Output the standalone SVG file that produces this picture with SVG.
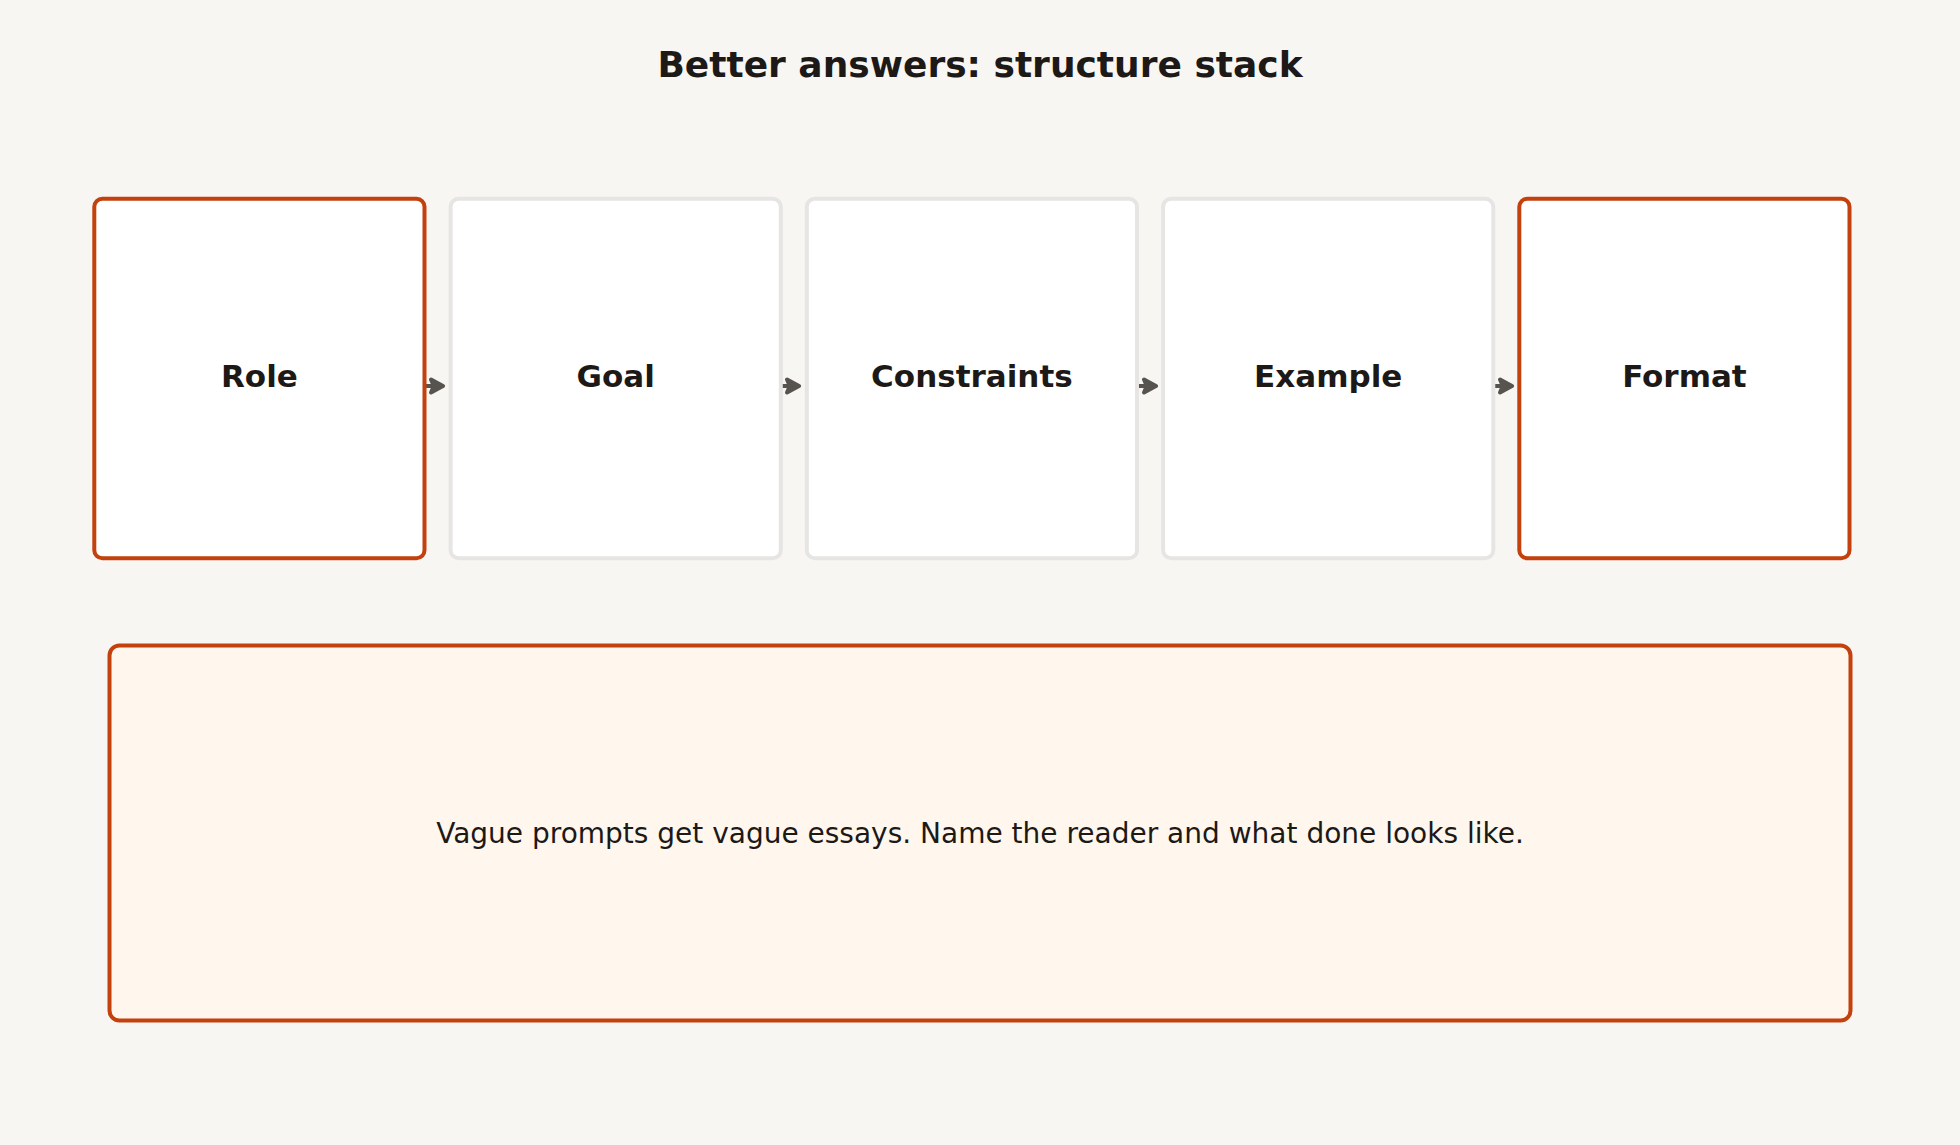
<svg xmlns="http://www.w3.org/2000/svg" width="1960" height="1145" viewBox="0 0 1960 1145">
<style>
.bg{fill:#f8f6f3}
.node{fill:#ffffff;stroke:#e7e5e4;stroke-width:4}
.node.hl{stroke:#c2410c}
.lbl{font-family:"DejaVu Sans",sans-serif;font-weight:bold;font-size:31px;fill:#1c1917;text-anchor:middle}
.title{font-family:"DejaVu Sans",sans-serif;font-weight:bold;font-size:36px;fill:#1c1917;text-anchor:middle}
.note{fill:#fff7ed;stroke:#c2410c;stroke-width:4}
.notetxt{font-family:"DejaVu Sans",sans-serif;font-size:28px;fill:#1c1917;text-anchor:middle}
.edge{stroke:#57534e;stroke-width:4;fill:none}
</style>
<defs>
<marker id="ah" viewBox="0 0 10 10" refX="8" refY="5" markerWidth="4.6" markerHeight="4.6" orient="auto" markerUnits="strokeWidth">
<path d="M1.5,1.5 L8,5 L1.5,8.5 L3,5 Z" fill="#57534e" stroke="#57534e" stroke-width="2.2" stroke-linejoin="round" stroke-linecap="round"/>
</marker>
</defs>
<rect class="bg" x="0" y="0" width="1960" height="1145"/>
<text class="title" x="980" y="77">Better answers: structure stack</text>
<g id="connectors">
<line class="edge" x1="426" y1="386" x2="443" y2="386" marker-end="url(#ah)"/>
<line class="edge" x1="782" y1="386" x2="799" y2="386" marker-end="url(#ah)"/>
<line class="edge" x1="1139" y1="386" x2="1156" y2="386" marker-end="url(#ah)"/>
<line class="edge" x1="1495" y1="386" x2="1512" y2="386" marker-end="url(#ah)"/>
</g>
<g id="role">
<rect class="node hl" x="94.3" y="198.7" width="330.2" height="359.5" rx="8"/>
<text class="lbl" x="259.4" y="387">Role</text>
</g>
<g id="goal">
<rect class="node" x="450.6" y="198.7" width="330.2" height="359.5" rx="8"/>
<text class="lbl" x="615.7" y="387">Goal</text>
</g>
<g id="constraints">
<rect class="node" x="806.8" y="198.7" width="330.2" height="359.5" rx="8"/>
<text class="lbl" x="971.9" y="387">Constraints</text>
</g>
<g id="example">
<rect class="node" x="1163.1" y="198.7" width="330.2" height="359.5" rx="8"/>
<text class="lbl" x="1328.2" y="387">Example</text>
</g>
<g id="format">
<rect class="node hl" x="1519.3" y="198.7" width="330.2" height="359.5" rx="8"/>
<text class="lbl" x="1684.4" y="387">Format</text>
</g>
<g id="note">
<rect class="note" x="109.5" y="645.5" width="1741" height="375" rx="10"/>
<text class="notetxt" x="980" y="843">Vague prompts get vague essays. Name the reader and what done looks like.</text>
</g>
</svg>
